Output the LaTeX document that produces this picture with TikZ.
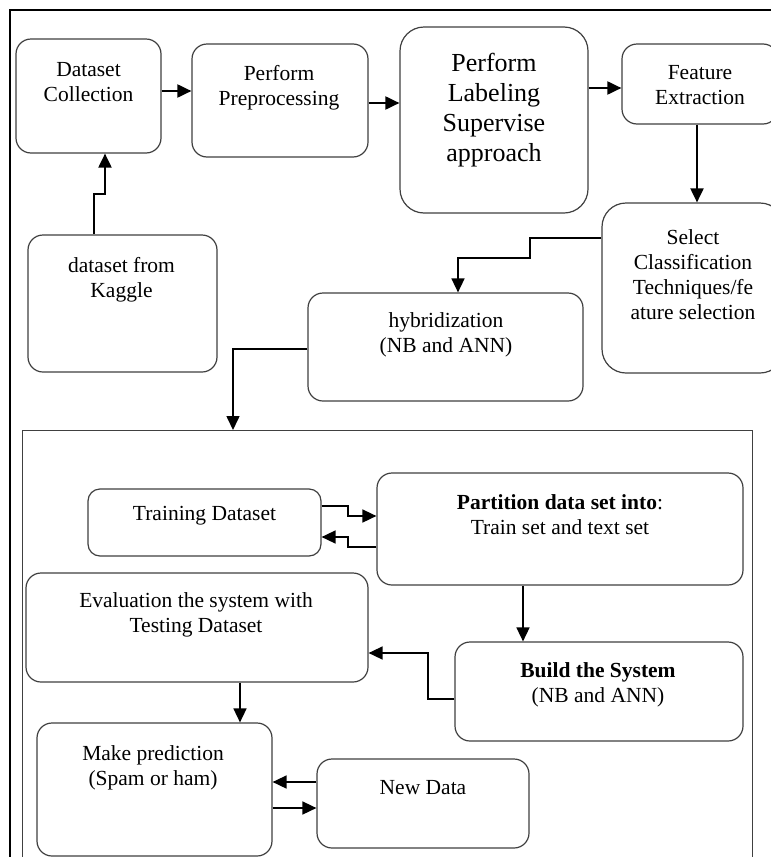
\documentclass[tikz,border=0pt]{standalone}
\usepackage{fontspec}
\setmainfont{Liberation Serif}
\usetikzlibrary{arrows.meta}
\begin{document}
\begin{tikzpicture}[x=1pt,y=-1pt,
  box/.style={draw=black!75, line width=1.2pt, rounded corners=15pt, inner sep=0pt},
  bigbox/.style={box, rounded corners=24pt},
  txt/.style={align=center, inner sep=0pt, font=\fontsize{21.5}{25}\selectfont},
  bigtxt/.style={align=center, inner sep=0pt, font=\fontsize{26}{30}\selectfont},
  arr/.style={line width=2pt, -{Triangle[length=14pt,width=13pt]}},
  thinarr/.style={line width=1.6pt, -{Triangle[length=14pt,width=13pt]}}]
\useasboundingbox (0,0) rectangle (771,857);
\clip (0,0) rectangle (771,857);
\fill[white] (0,0) rectangle (771,857);
% outer frame
\draw[line width=2pt] (10,880) -- (10,10) -- (790,10);
% boxes (top part)
\node[box, minimum width=145, minimum height=114] (dc) at (88.5,96) {};
\node[txt] (dct) at (88.5,82.5) {Dataset\\Collection};
\node[box, minimum width=176, minimum height=113] (pp) at (280,100.5) {};
\node[txt] (ppt) at (279,87.5) {Perform\\Preprocessing};
\node[bigbox, minimum width=188, minimum height=186] (lab) at (494,120) {};
\node[bigtxt] (labt) at (494,110) {Perform\\Labeling\\Supervise\\approach};
\node[box, minimum width=156, minimum height=80] (fe) at (700,84) {};
\node[txt] (fet) at (700,85.5) {Feature\\Extraction};
\node[bigbox, minimum width=182, minimum height=170] (sel) at (693,288) {};
\node[txt] (selt) at (693,274.5) {Select\\Classification\\Techniques/fe\\ature selection};
\node[box, minimum width=189, minimum height=137] (kag) at (122.5,303.5) {};
\node[txt] (kagt) at (121.5,279.5) {dataset from\\Kaggle};
\node[box, minimum width=275, minimum height=108] (hyb) at (445.5,347) {};
\node[txt] (hybt) at (446,334.5) {hybridization\\(NB and ANN)};
% inner frame
\node[draw=black!75, line width=1.2pt, minimum width=730, minimum height=470, anchor=north west, inner sep=0pt] (inner) at (22,430) {};
% boxes (inner part)
\node[box, rounded corners=12pt, minimum width=233, minimum height=67] (tr) at (204.5,522.5) {};
\node[txt] (trt) at (204.5,516) {Training Dataset};
\node[box, minimum width=366, minimum height=112] (part) at (560,529) {};
\node[txt] (partt) at (560,514.5) {\textbf{Partition data set into}:\\Train set and text set};
\node[box, minimum width=342, minimum height=109] (ev) at (197,627.5) {};
\node[txt] (evt) at (196,614.5) {Evaluation the system with\\Testing Dataset};
\node[box, minimum width=288, minimum height=99] (bld) at (599,691.5) {};
\node[txt] (bldt) at (598,684.5) {\textbf{Build the System}\\(NB and ANN)};
\node[box, minimum width=235, minimum height=133] (mp) at (154.5,789.5) {};
\node[txt] (mpt) at (153,767.5) {Make prediction\\(Spam or ham)};
\node[box, minimum width=212, minimum height=89] (nd) at (423,803.5) {};
\node[txt] (ndt) at (423,788) {New Data};
% connectors
\draw[arr] (dc.east |- 0,91) -- (pp.west |- 0,91);
\draw[arr] (pp.east |- 0,103) -- (lab.west |- 0,103);
\draw[arr] (lab.east |- 0,88) -- (fe.west |- 0,88);
\draw[arr] (fe.south -| 697,0) -- (sel.north -| 697,0);
\draw[thinarr] (sel.west |- 0,238) -- (530,238) -- (530,258) -- (458,258) -- (hyb.north -| 458,0);
\draw[arr] (kag.north -| 94,0) -- (94,194) -- (105,194) -- (dc.south -| 105,0);
\draw[thinarr] (hyb.west |- 0,349) -- (233,349) -- (inner.north -| 233,0);
\draw[thinarr] (tr.east |- 0,506) -- (348,506) -- (348,516) -- (part.west |- 0,516);
\draw[thinarr] (part.west |- 0,547) -- (348,547) -- (348,537) -- (tr.east |- 0,537);
\draw[thinarr] (part.south -| 523,0) -- (bld.north -| 523,0);
\draw[thinarr] (bld.west |- 0,699) -- (428,699) -- (428,653) -- (ev.east |- 0,653);
\draw[thinarr] (ev.south -| 240,0) -- (mp.north -| 240,0);
\draw[thinarr] (nd.west |- 0,782) -- (mp.east |- 0,782);
\draw[thinarr] (mp.east |- 0,808) -- (nd.west |- 0,808);
\end{tikzpicture}
\end{document}
